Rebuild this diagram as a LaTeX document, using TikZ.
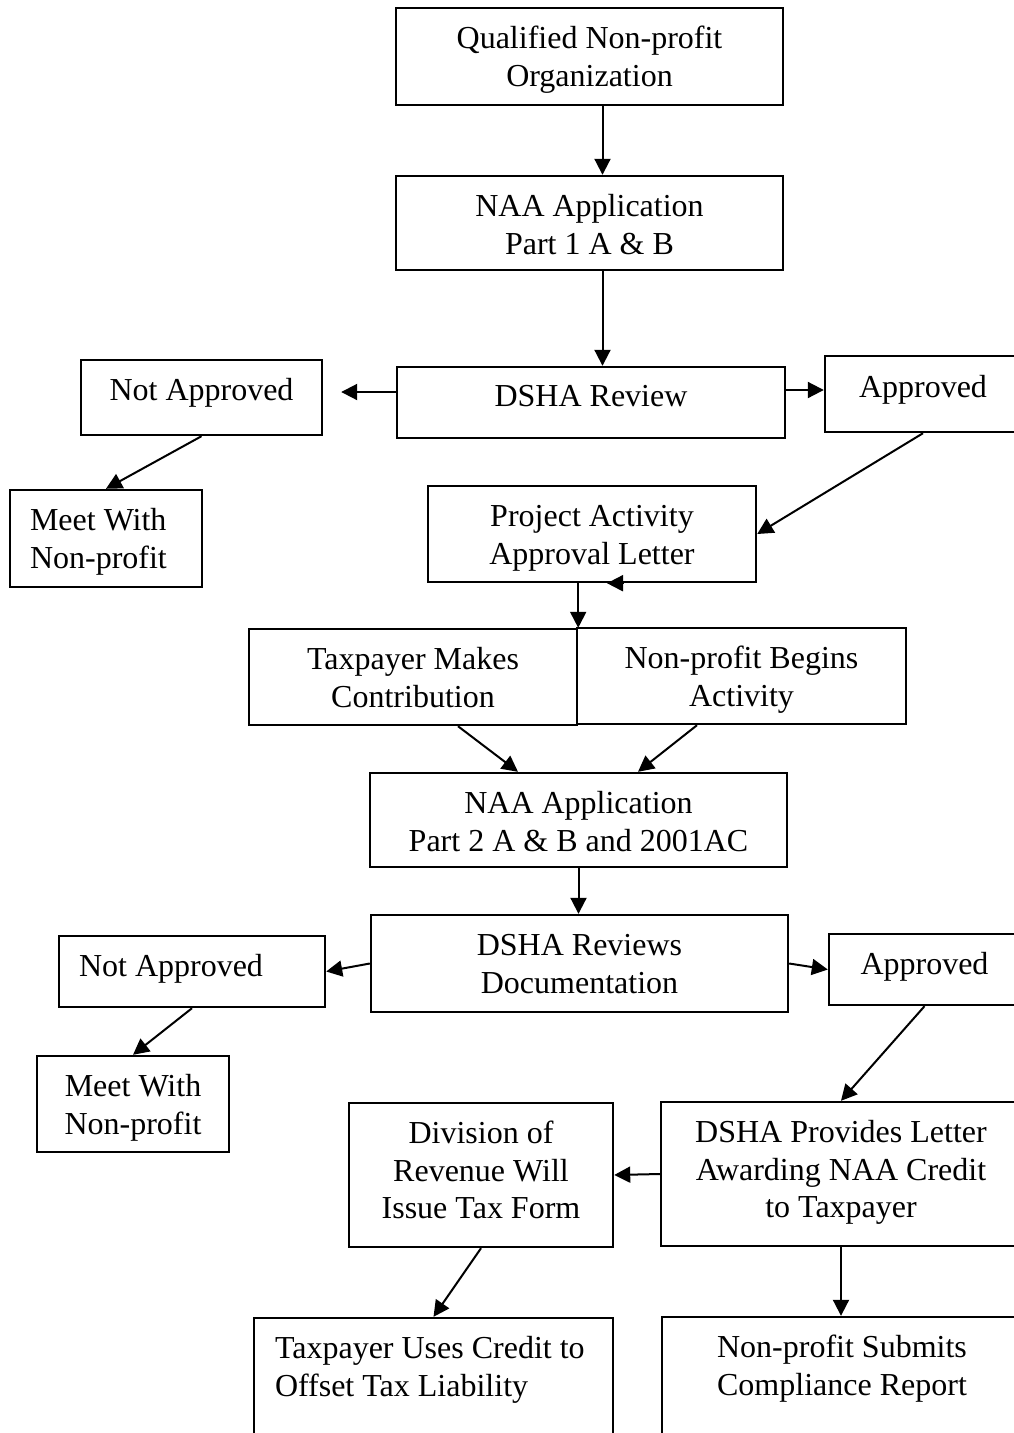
\documentclass[tikz,border=0pt]{standalone}
\usepackage{fontspec}
\setmainfont{Liberation Serif}
\usetikzlibrary{arrows.meta}
\newcommand{\fsz}{\fontsize{32pt}{37.5pt}\selectfont}
\newcommand{\topst}{\rule{0pt}{41.5pt}}
\begin{document}
\begin{tikzpicture}[x=1pt,y=-1pt,
  box/.style={draw, line width=2.4pt, inner sep=0pt},
  txt/.style={anchor=north, align=center, inner sep=0pt, font=\fsz},
  txtl/.style={anchor=north west, align=left, inner sep=0pt, font=\fsz},
  arr/.style={line width=2pt, -{Triangle[length=16pt,width=16pt]}}]
\useasboundingbox (0,0) rectangle (1013,1433);
\fill[white] (0,0) rectangle (1013,1433);
% boxes
\node[box, minimum width=387pt, minimum height=97pt] (q) at (589.5,56.5) {};
\node[box, minimum width=387pt, minimum height=94pt] (n1) at (589.5,223) {};
\node[box, minimum width=388pt, minimum height=71pt] (dr) at (591,402.5) {};
\node[box, minimum width=241pt, minimum height=75pt] (na1) at (201.5,397.5) {};
\node[box, minimum width=196pt, minimum height=76pt] (ap1) at (923,394) {};
\node[box, minimum width=192pt, minimum height=97pt] (mw1) at (106,538.5) {};
\node[box, minimum width=328pt, minimum height=96pt] (pa) at (592,534) {};
\node[box, minimum width=328pt, minimum height=96pt] (tm) at (413,677) {};
\node[box, minimum width=329pt, minimum height=96pt] (nb) at (741.5,676) {};
\node[box, minimum width=417pt, minimum height=94pt] (n2) at (578.5,820) {};
\node[box, minimum width=417pt, minimum height=97pt] (dr2) at (579.5,963.5) {};
\node[box, minimum width=266pt, minimum height=71pt] (na2) at (192,971.5) {};
\node[box, minimum width=191pt, minimum height=71pt] (ap2) at (924.5,969.5) {};
\node[box, minimum width=192pt, minimum height=96pt] (mw2) at (133,1104) {};
\node[box, minimum width=264pt, minimum height=144pt] (dv) at (481,1175) {};
\node[box, minimum width=360pt, minimum height=144pt] (dp) at (841,1174) {};
\node[box, minimum width=359pt, minimum height=136pt] (tu) at (433.5,1386) {};
\node[box, minimum width=360pt, minimum height=136pt] (ns) at (842,1385) {};
% texts
\node[txt] (qt) at (q.north) {\topst Qualified Non-profit\\Organization};
\node[txt] (n1t) at (n1.north) {\topst NAA Application\\Part 1 A \& B};
\node[txt] (drt) at ([yshift=1pt]dr.north) {\topst DSHA Review};
\node[txt] (na1t) at (na1.north) {\topst Not Approved};
\node[txt] (ap1t) at ([yshift=-1pt]ap1.north) {\topst Approved};
\node[txtl] (mw1t) at ([xshift=21pt]mw1.north west) {\topst Meet With\\Non-profit};
\node[txt] (pat) at (pa.north) {\topst Project Activity\\Approval Letter};
\node[txt] (tmt) at (tm.north) {\topst Taxpayer Makes\\Contribution};
\node[txt] (nbt) at (nb.north) {\topst Non-profit Begins\\Activity};
\node[txt] (n2t) at (n2.north) {\topst NAA Application\\Part 2 A \& B and 2001AC};
\node[txt] (dr2t) at (dr2.north) {\topst DSHA Reviews\\Documentation};
\node[txtl] (na2t) at ([xshift=21pt]na2.north west) {\topst Not Approved};
\node[txt] (ap2t) at (ap2.north) {\topst Approved};
\node[txt] (mw2t) at (mw2.north) {\topst Meet With\\Non-profit};
\node[txt] (dvt) at (dv.north) {\topst Division of\\Revenue Will\\Issue Tax Form};
\node[txt] (dpt) at (dp.north) {\topst DSHA Provides Letter\\Awarding NAA Credit\\to Taxpayer};
\node[txtl] (tut) at ([xshift=22pt]tu.north west) {\topst Taxpayer Uses Credit to\\Offset Tax Liability};
\node[txt] (nst) at (ns.north) {\topst Non-profit Submits\\Compliance Report};
% connectors
\draw[arr] ([xshift=13pt]q.south) -- ([xshift=13pt]n1.north);
\draw[arr] ([xshift=13pt]n1.south) -- ([xshift=13pt]n1.south |- dr.north);
\draw[arr] ([yshift=10.5pt]dr.west) -- ([xshift=18pt,yshift=5.5pt]na1.east);
\draw[arr] ([yshift=12.5pt]dr.east) -- ([yshift=4pt]ap1.west);
\draw[arr] (na1.south) -- (mw1.north);
\draw[arr] (ap1.south) -- (pa.east);
\draw[arr] (tm.north east |- pa.south) -- (tm.north east);
\draw[arr] ([xshift=31pt]pa.south) -- ([xshift=15pt]pa.south);
\draw[arr] ([xshift=45pt]tm.south) -- ([xshift=-60.5pt]n2.north);
\draw[arr] ([xshift=-44.5pt]nb.south) -- ([xshift=59.5pt]n2.north);
\draw[arr] (n2.south) -- (n2.south |- dr2.north);
\draw[arr] (dr2.west) -- (na2.east);
\draw[arr] (dr2.east) -- (ap2.west);
\draw[arr] (na2.south) -- (mw2.north);
\draw[arr] (ap2.south) -- (dp.north);
\draw[arr] (dp.west) -- (dv.east);
\draw[arr] (dv.south) -- (tu.north);
\draw[arr] (dp.south) -- (dp.south |- ns.north);
\end{tikzpicture}
\end{document}
